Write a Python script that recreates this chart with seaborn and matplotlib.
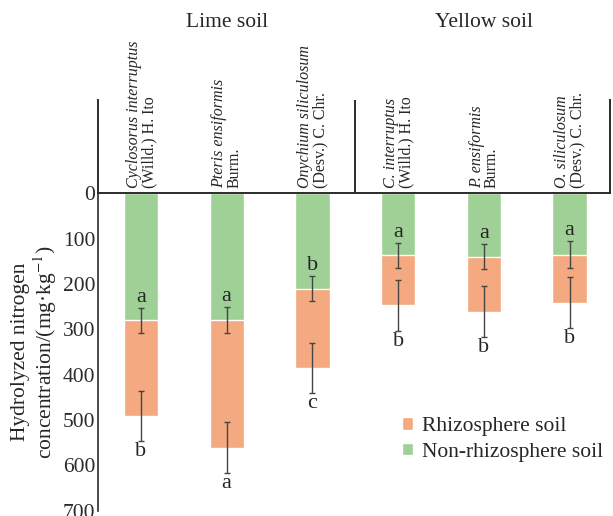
import numpy as np
import pandas as pd
import matplotlib
matplotlib.use("Agg")
import matplotlib.pyplot as plt
import seaborn as sns

# ---- data ----
soil_groups = ["Lime soil", "Yellow soil"]
species = ["Cyclosorus interruptus", "Pteris ensiformis", "Onychium siliculosum",
           "C. interruptus", "P. ensiformis", "O. siliculosum"]
authors = ["(Willd.) H. Ito", "Burm.", "(Desv.) C. Chr.",
           "(Willd.) H. Ito", "Burm.", "(Desv.) C. Chr."]
non_rhizo = [280, 280, 210, 137, 140, 135]
non_rhizo_err = [28, 29, 28, 28, 28, 29]
non_rhizo_letters = ["a", "a", "b", "a", "a", "a"]
rhizo = [491, 561, 386, 247, 261, 241]
rhizo_err = [56, 56, 55, 56, 56, 56]
rhizo_letters = ["b", "a", "c", "b", "b", "b"]

df = pd.DataFrame({"species": species, "non_rhizo": non_rhizo, "rhizo": rhizo})

green = "#9fd096"
orange = "#f5a980"
line_col = "#2b2b2b"
err_col = "#454545"

sns.set_theme(style="white")
plt.rcParams["font.family"] = ["Liberation Serif", "DejaVu Serif"]
plt.rcParams["mathtext.fontset"] = "stix"

fig = plt.figure(figsize=(6.13, 5.16), dpi=100)
ax = fig.add_axes([0.160, 0.0103, 0.835, 0.6151])
ax_h = fig.add_axes([0.160, 0.6254, 0.835, 0.181])

# overlapping bars: rhizosphere behind, non-rhizosphere in front
sns.barplot(data=df, x="species", y="rhizo", color=orange, saturation=1,
            width=0.4, label="Rhizosphere soil", ax=ax)
sns.barplot(data=df, x="species", y="non_rhizo", color=green, saturation=1,
            width=0.4, label="Non-rhizosphere soil", ax=ax)

xpos = np.arange(len(species))
ax.errorbar(xpos, non_rhizo, yerr=non_rhizo_err, fmt="none", ecolor=err_col,
            elinewidth=1.0, capsize=2.5, capthick=1.0)
ax.errorbar(xpos, rhizo, yerr=rhizo_err, fmt="none", ecolor=err_col,
            elinewidth=1.0, capsize=2.5, capthick=1.0)

for i in range(len(species)):
    ax.text(xpos[i], non_rhizo[i] - non_rhizo_err[i] - 2, non_rhizo_letters[i],
            ha="center", va="bottom", fontsize=16)
    ax.text(xpos[i], rhizo[i] + rhizo_err[i] + 2, rhizo_letters[i],
            ha="center", va="top", fontsize=16)

ax.set_xlim(-0.5, 5.47)
ax.set_ylim(700, 0)
ax.set_yticks(range(0, 701, 100))
ax.set_xticks([])
ax.set_xlabel("")
ax.set_ylabel("Hydrolyzed nitrogen\nconcentration/(mg·kg$^{-1}$)", fontsize=15.5,
              linespacing=1.1)
ax.yaxis.set_label_coords(-0.076, 0.5)
ax.tick_params(axis="y", direction="in", length=3, width=1, labelsize=15.5,
               colors=line_col, pad=2)
for s in ["top", "right", "bottom"]:
    ax.spines[s].set_visible(False)
ax.spines["left"].set_color(line_col)
ax.spines["left"].set_linewidth(1.2)

leg = ax.legend(loc="upper left", bbox_to_anchor=(0.593, 0.295), frameon=False,
                fontsize=15.5, handlelength=0.54, handleheight=0.54,
                handletextpad=0.4, labelspacing=0.3, borderpad=0,
                borderaxespad=0)

# header box with species names
ax_h.set_xlim(-0.5, 5.47)
ax_h.set_ylim(0, 1)
ax_h.set_xticks([])
ax_h.set_yticks([])
ax_h.set_facecolor("none")
ax_h.spines["top"].set_visible(False)
for s in ["left", "right", "bottom"]:
    ax_h.spines[s].set_color(line_col)
    ax_h.spines[s].set_linewidth(1.4)
ax_h.axvline(2.5, color=line_col, lw=1.4)

for i in range(len(species)):
    ax_h.text(xpos[i] - 0.085, 0.06, species[i], rotation=90, ha="center",
              va="bottom", fontsize=11.5, style="italic")
    ax_h.text(xpos[i] + 0.095, 0.06, authors[i], rotation=90, ha="center",
              va="bottom", fontsize=11.5)

for g, name in enumerate(soil_groups):
    ax_h.text(1 + 3 * g, 1.83, name, ha="center", va="center", fontsize=15.5,
              clip_on=False)

fig.savefig("out.png", dpi=100)
